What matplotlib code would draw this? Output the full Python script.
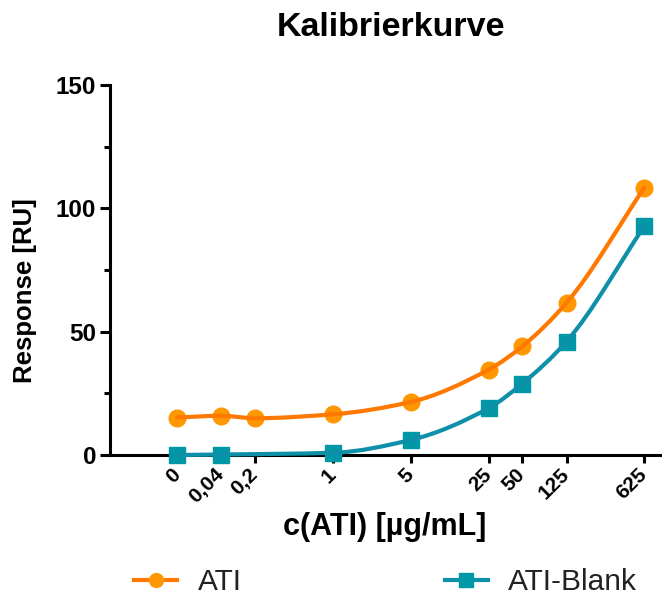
import numpy as np
import matplotlib
matplotlib.use("Agg")
import matplotlib.pyplot as plt
from matplotlib.path import Path
from matplotlib.patches import PathPatch
from matplotlib.lines import Line2D

plt.rcParams['font.family'] = ['Liberation Sans', 'DejaVu Sans']

# concentrations as placed on the log axis, and the labels written under them
conc_axis = [0.04, 0.1, 0.2, 1, 5, 25, 50, 125, 625]
conc_labels = ['0', '0,04', '0,2', '1', '5', '25', '50', '125', '625']

# response [RU]
ati = [15.2, 15.9, 14.9, 16.5, 21.5, 34.6, 44.0, 61.7, 108.4]
ati_blank = [0.0, 0.2, np.nan, 0.9, 6.1, 19.0, 28.9, 46.0, 92.8]

orange_line = '#ff7800'
orange_mark = '#ff9800'
teal_line = '#0e90a8'
teal_mark = '#0097a7'


def smooth_path(xs, ys):
    # monotone cubic through the points in log-x space, written as bezier segments
    xs = np.asarray(xs, float)
    ys = np.asarray(ys, float)
    ok = ~np.isnan(ys)
    u = np.log10(xs[ok])
    y = ys[ok]
    h = np.diff(u)
    d = np.diff(y) / h
    m = np.zeros_like(y)
    m[0], m[-1] = d[0], d[-1]
    for i in range(1, len(y) - 1):
        if d[i - 1] * d[i] > 0:
            w1 = 2 * h[i] + h[i - 1]
            w2 = h[i] + 2 * h[i - 1]
            m[i] = (w1 + w2) / (w1 / d[i - 1] + w2 / d[i])
    verts = [(u[0], y[0])]
    codes = [Path.MOVETO]
    for i in range(len(y) - 1):
        verts += [(u[i] + h[i] / 3, y[i] + m[i] * h[i] / 3),
                  (u[i + 1] - h[i] / 3, y[i + 1] - m[i + 1] * h[i] / 3),
                  (u[i + 1], y[i + 1])]
        codes += [Path.CURVE4] * 3
    verts = np.array(verts)
    verts[:, 0] = 10 ** verts[:, 0]
    return Path(verts, codes)


fig = plt.figure(figsize=(6.62, 5.98), dpi=100)
ax = fig.add_axes([110 / 662, 1 - 455 / 598, 550 / 662, 370 / 598])
ax.set_xscale('log')
ax.set_xlim(0.01, 863)
ax.set_ylim(0, 150)

for ys, lc, mc, mk in [(ati, orange_line, orange_mark, 'o'),
                       (ati_blank, teal_line, teal_mark, 's')]:
    ax.plot(conc_axis, ys, linestyle='none', marker=mk, markersize=12,
            color=mc, clip_on=False, zorder=3)
    ax.add_patch(PathPatch(smooth_path(conc_axis, ys), facecolor='none',
                           edgecolor=lc, linewidth=3.0, capstyle='round',
                           clip_on=False, zorder=4))

ax.spines['top'].set_visible(False)
ax.spines['right'].set_visible(False)
ax.spines['left'].set_linewidth(2.2)
ax.spines['bottom'].set_linewidth(2.2)

ax.set_xticks(conc_axis)
ax.set_xticklabels(conc_labels, rotation=45, ha='right', va='center',
                   rotation_mode='anchor', fontsize=15, fontweight='bold')
ax.xaxis.set_minor_locator(matplotlib.ticker.NullLocator())
ax.tick_params(axis='x', which='major', length=6, width=2.2, pad=6)

ax.set_yticks([0, 50, 100, 150])
ax.set_yticks([25, 75, 125], minor=True)
ax.set_yticklabels(['0', '50', '100', '150'], fontsize=17.5, fontweight='bold')
ax.tick_params(axis='y', which='major', length=7, width=2.2, pad=3)
ax.tick_params(axis='y', which='minor', length=4, width=2.2)

fig.text(391 / 662, 1 - 28 / 598, 'Kalibrierkurve', ha='center', va='center',
         fontsize=24.5, fontweight='bold')
fig.text(385 / 662, 1 - 527 / 598, 'c(ATI) [µg/mL]', ha='center', va='center',
         fontsize=22, fontweight='bold')
fig.text(25 / 662, 1 - 291 / 598, 'Response [RU]', ha='center', va='center',
         rotation=90, fontsize=18.5, fontweight='bold')

handles = [Line2D([], [], color=orange_line, linewidth=3, marker='o',
                  markersize=10, markerfacecolor=orange_mark,
                  markeredgecolor=orange_mark),
           Line2D([], [], color=teal_line, linewidth=3, marker='s',
                  markersize=10, markerfacecolor=teal_mark,
                  markeredgecolor=teal_mark)]
leg = fig.legend(handles, ['ATI', 'ATI-Blank'], loc='center left',
                 bbox_to_anchor=(134 / 662, 1 - 582 / 598), ncol=2,
                 frameon=False, fontsize=21.5, handlelength=1.45,
                 handletextpad=0.68, columnspacing=6.8, borderaxespad=0,
                 borderpad=0)
for t in leg.get_texts():
    t.set_color('#222222')

fig.savefig('out.png', dpi=100)
